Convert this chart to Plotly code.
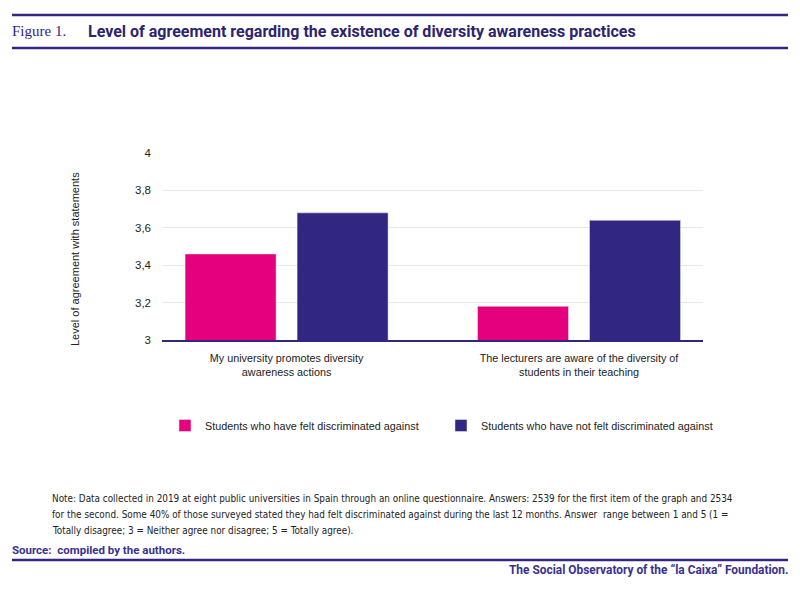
import plotly.graph_objects as go

# data
categories = ["My university promotes diversity<br>awareness actions",
              "The lecturers are aware of the diversity of<br>students in their teaching"]
felt_discriminated = [3.46, 3.18]
not_discriminated = [3.68, 3.64]
series_names = ["Students who have felt discriminated against",
                "Students who have not felt discriminated against"]
y_ticks = [3, 3.2, 3.4, 3.6, 3.8, 4]

PINK = "#E5007D"
NAVY = "#312782"
OFF = 8  # page body margin
W, H = 800 - OFF, 591 - OFF
L, R, T, B = 162 - OFF, 703 - OFF, 153 - OFF, 340 - OFF  # plot area in figure pixels


def px(x):
    # window pixel -> paper x
    return (x - OFF - L) / (R - L)


def py(y):
    return (B - (y - OFF)) / (B - T)


fig = go.Figure()
fig.add_trace(go.Bar(x=[0, 1], y=felt_discriminated, name=series_names[0],
                     marker_color=PINK))
fig.add_trace(go.Bar(x=[0, 1], y=not_discriminated, name=series_names[1],
                     marker_color=NAVY))

note_lines = [
    "Note: Data collected in 2019 at eight public universities in Spain through an online questionnaire. "
    "Answers: 2539 for the first item of the graph and 2534",
    "for the second. Some 40% of those surveyed stated they had felt discriminated against during the last "
    "12 months. Answer  range between 1 and 5 (1 =",
    "Totally disagree; 3 = Neither agree nor disagree; 5 = Totally agree).",
]

annotations = [
    dict(text="Figure 1.", x=px(10), y=py(31), xanchor="left", yanchor="middle",
         font=dict(family="Liberation Serif", size=15, color=NAVY)),
    dict(text="<b>Level of agreement regarding the existence of diversity awareness practices</b>",
         x=px(86), y=py(31), xanchor="left", yanchor="middle",
         font=dict(family="Roboto", size=16, color="#2D2470")),
    dict(text="<b>Source:  compiled by the authors.</b>", x=px(10), y=py(550),
         xanchor="left", yanchor="middle",
         font=dict(family="Roboto", size=11.5, color="#3A3190")),
    dict(text="<b>The Social Observatory of the \u201cla Caixa\u201d Foundation.</b>", x=px(790), y=py(570),
         xanchor="right", yanchor="middle",
         font=dict(family="Roboto", size=11.9, color="#3A3190")),
    dict(text="Level of agreement with statements", x=px(75), y=py(259), textangle=-90,
         xanchor="center", yanchor="middle",
         font=dict(family="Liberation Sans", size=11, color="#222222")),
]
for i, line in enumerate(note_lines):
    annotations.append(dict(text=line, x=px(50), y=py(498 + 16 * i), xanchor="left", yanchor="middle",
                            font=dict(family="DejaVu Sans Condensed", size=9.87, color="#222222")))
for a in annotations:
    a.update(xref="paper", yref="paper", showarrow=False)

shapes = []
for yy in [15, 48, 560]:
    shapes.append(dict(type="line", xref="paper", yref="paper",
                       x0=px(12), x1=px(788), y0=py(yy), y1=py(yy),
                       line=dict(color=NAVY, width=2.5)))

fig.update_layout(
    width=W, height=H,
    margin=dict(l=L, r=W - R, t=T, b=H - B),
    paper_bgcolor="white", plot_bgcolor="white",
    separators=",.",
    barmode="group", bargap=0.234, bargroupgap=0.1875,
    font=dict(family="Liberation Sans", size=11, color="#333333"),
    showlegend=True,
    legend=dict(orientation="h", x=px(717), y=py(411), xanchor="right", yanchor="top",
                font=dict(size=10.8, color="#222222"), entrywidth=231,
                itemwidth=30, traceorder="normal"),
    annotations=annotations, shapes=shapes,
)
fig.update_xaxes(range=[-0.426, 1.424], tickvals=[0, 1], ticktext=categories,
                 showline=True, linecolor=NAVY, linewidth=2, showgrid=False,
                 ticks="", ticklabelstandoff=7,
                 tickfont=dict(size=10.8, color="#222222"))
fig.update_yaxes(range=[3, 4], tickvals=y_ticks, tickformat=".1~f",
                 showgrid=True, gridcolor="#E8E8E8", gridwidth=1, zeroline=False,
                 ticks="", ticklabelstandoff=10,
                 tickfont=dict(size=11.5, color="#222222"))

fig.write_html("out.html")
